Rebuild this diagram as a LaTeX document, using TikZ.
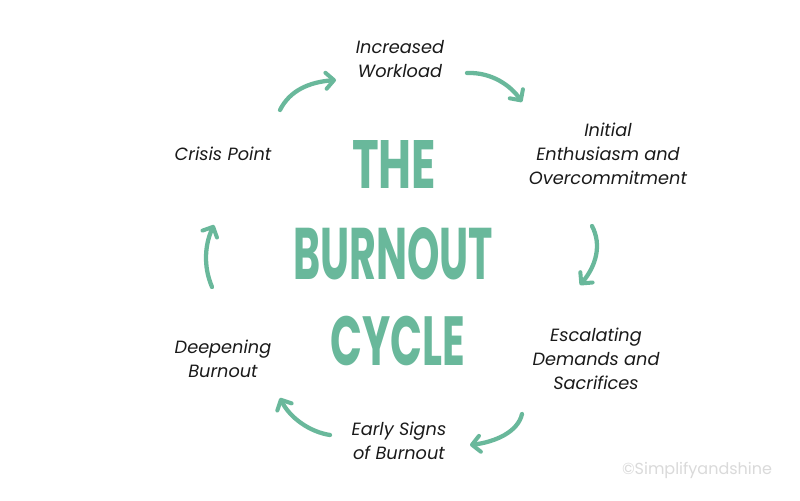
\documentclass[tikz,border=0pt]{standalone}
\usepackage{fontspec}
\setmainfont{Poppins}
\usetikzlibrary{arrows.meta}
\definecolor{cyc}{HTML}{69B89B}
\definecolor{wm}{HTML}{DADADA}
\definecolor{txt}{HTML}{1A1A1A}
\begin{document}
\begin{tikzpicture}[x=0.75pt,y=-0.75pt,
  lbl/.style={font=\fontsize{13.3}{18}\selectfont\itshape, text=txt, align=center, inner sep=0pt},
  ttl/.style={text=cyc, inner sep=0pt},
  cycarrow/.style={draw=cyc, line width=3.2pt, line cap=round, -{Straight Barb[length=6pt,width=12pt,line width=3pt,round]}}]
\useasboundingbox (0,0) rectangle (800,500);
\fill[white] (0,0) rectangle (800,500);
% labels
\node[lbl] (inc) at (400,59) {Increased\\Workload};
\node[lbl] (ini) at (608,154) {Initial\\Enthusiasm and\\Overcommitment};
\node[lbl] (esc) at (596,359) {Escalating\\Demands and\\Sacrifices};
\node[lbl] (ear) at (399,441) {Early Signs\\of Burnout};
\node[lbl] (dee) at (223,359) {Deepening\\Burnout};
\node[lbl] (cri) at (223,154) {Crisis Point};
% title
\node[ttl] (t1) at (394,164) {\resizebox{63pt}{36pt}{\bfseries THE}};
\node[ttl] (t2) at (393,254) {\resizebox{150pt}{39pt}{\bfseries BURNOUT}};
\node[ttl] (t3) at (398,341) {\resizebox{101pt}{37pt}{\bfseries CYCLE}};
% watermark
\node[text=wm, font=\fontsize{12}{14}\selectfont, inner sep=0pt] (wmk) at (697,470) {©Simplifyandshine};
% arrow end points
\coordinate (a1s) at (280,110); \coordinate (a1e) at (336,80);
\coordinate (a2s) at (467,73);  \coordinate (a2e) at (522,102);
\coordinate (a3s) at (592,226); \coordinate (a3e) at (580,285);
\coordinate (a4s) at (522,414); \coordinate (a4e) at (470,445);
\coordinate (a5s) at (330,435); \coordinate (a5e) at (280,398);
\coordinate (a6s) at (212,287); \coordinate (a6e) at (214,225);
\draw[cycarrow] (a1s) .. controls (290,90) and (310,82) .. (a1e);
\draw[cycarrow] (a2s) .. controls (492,72) and (511,86) .. (a2e);
\draw[cycarrow] (a3s) .. controls (602,245) and (596,266) .. (a3e);
\draw[cycarrow] (a4s) .. controls (518,432) and (495,442) .. (a4e);
\draw[cycarrow] (a5s) .. controls (310,432) and (290,418) .. (a5e);
\draw[cycarrow] (a6s) .. controls (203,266) and (205,244) .. (a6e);
\end{tikzpicture}
\end{document}
